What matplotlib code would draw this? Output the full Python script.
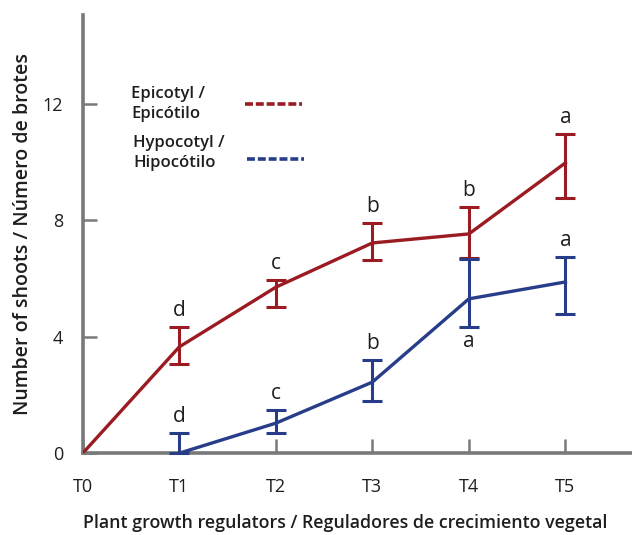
"""
Shoots per explant for epicotyl and hypocotyl across growth regulator treatments.
"""
import matplotlib
matplotlib.use("Agg")
import matplotlib.pyplot as plt
import numpy as np

treatments = ["T0", "T1", "T2", "T3", "T4", "T5"]

# Epicotyl / Epicótilo
epi_x = [0, 1, 2, 3, 4, 5]
epi_mean = [0.0, 3.65, 5.7, 7.22, 7.53, 9.97]
epi_low = [0.0, 3.06, 5.02, 6.64, 6.7, 8.77]
epi_high = [0.0, 4.33, 5.95, 7.91, 8.46, 10.97]
epi_letters = ["", "d", "c", "b", "b", "a"]

# Hypocotyl / Hipocótilo
hyp_x = [1, 2, 3, 4, 5]
hyp_mean = [0.0, 1.03, 2.44, 5.3, 5.88]
hyp_low = [0.0, 0.69, 1.79, 4.33, 4.78]
hyp_high = [0.69, 1.48, 3.2, 6.67, 6.74]
hyp_letters = ["d", "c", "b", "a", "a"]
hyp_letter_below = [False, False, False, True, False]

RED = "#9b1b23"
BLUE = "#273d8a"
GREY = "#777a79"
TXT = "#1e1e1e"

plt.rcParams["font.family"] = ["Open Sans", "DejaVu Sans"]

fig = plt.figure(figsize=(6.32, 5.35), dpi=100)
ax = fig.add_axes([0.131, 0.153, 0.869, 0.819])


def draw_series(x, mean, low, high, color, skip_first_err=False):
    mean = np.array(mean)
    yerr = np.array([mean - np.array(low), np.array(high) - mean])
    ax.plot(x, mean, color=color, lw=2.4, zorder=3)
    ex = x[1:] if skip_first_err else x
    ey = mean[1:] if skip_first_err else mean
    er = yerr[:, 1:] if skip_first_err else yerr
    ax.errorbar(ex, ey, yerr=er, fmt="none", ecolor=color, elinewidth=2.2,
                capsize=7.5, capthick=2.2, zorder=4, clip_on=False)


draw_series(epi_x, epi_mean, epi_low, epi_high, RED, skip_first_err=True)
draw_series(hyp_x, hyp_mean, hyp_low, hyp_high, BLUE)

for x, h, t in zip(epi_x, epi_high, epi_letters):
    if t:
        ax.text(x, h + 0.2, t, color=TXT, fontsize=15, ha="center", va="bottom")
for x, h, lo, t, below in zip(hyp_x, hyp_high, hyp_low, hyp_letters, hyp_letter_below):
    if below:
        ax.text(x, lo - 0.15, t, color=TXT, fontsize=15, ha="center", va="top")
    else:
        ax.text(x, h + 0.2, t, color=TXT, fontsize=15, ha="center", va="bottom")

# legend drawn by hand
ax.text(0.5, 12.0, "Epicotyl /\nEpicótilo", fontsize=12, color=TXT,
        fontweight="semibold", ha="left", va="center", linespacing=1.3)
ax.plot([1.68, 2.27], [12.0, 12.0], color=RED, lw=2.6, ls=(0, (2.2, 0.8)))
ax.text(0.52, 10.3, "Hypocotyl /\nHipocótilo", fontsize=12, color=TXT,
        fontweight="semibold", ha="left", va="center", linespacing=1.3)
ax.plot([1.7, 2.29], [10.1, 10.1], color=BLUE, lw=2.6, ls=(0, (2.2, 0.8)))

ax.set_xlim(0, 5.69)
ax.set_ylim(0, 15.05)
ax.set_xticks(range(len(treatments)))
ax.set_xticklabels(treatments)
ax.set_yticks([0, 4, 8, 12])

for side in ["top", "right"]:
    ax.spines[side].set_visible(False)
for side in ["left", "bottom"]:
    ax.spines[side].set_color(GREY)
    ax.spines[side].set_linewidth(2.6)

ax.tick_params(axis="both", direction="in", length=10, width=1.8, color=GREY,
               labelsize=13, labelcolor=TXT)
ax.tick_params(axis="x", pad=18)
ax.tick_params(axis="y", pad=14)

ax.set_xlabel("Plant growth regulators / Reguladores de crecimiento vegetal",
              fontsize=12.8, color=TXT, fontweight="semibold")
ax.xaxis.set_label_coords(0.478, -0.138)
ax.set_ylabel("Number of shoots / Número de brotes", fontsize=14, color=TXT,
              fontweight="semibold", labelpad=7)

plt.savefig("out.png", dpi=100)
